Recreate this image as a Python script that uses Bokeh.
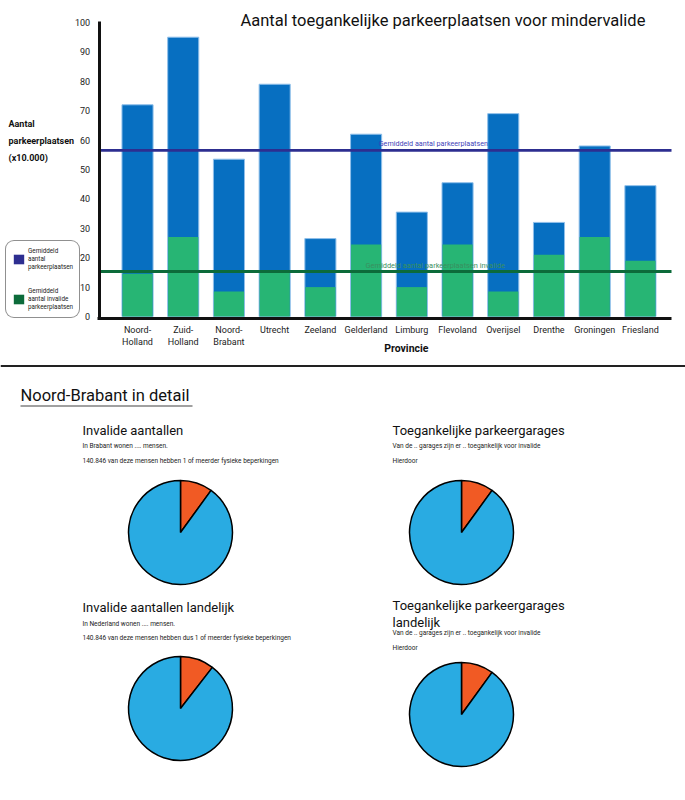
import numpy as np
from bokeh.plotting import figure
from bokeh.models import Range1d, Label, Legend, LegendItem, Span, FixedTicker
from bokeh.layouts import column
from bokeh.embed import file_html
from bokeh.resources import INLINE
from bokeh.core.properties import value

# ---------------- data ----------------
provinces = ["Noord-Holland", "Zuid-Holland", "Noord-Brabant", "Utrecht", "Zeeland",
             "Gelderland", "Limburg", "Flevoland", "Overijsel", "Drenthe",
             "Groningen", "Friesland"]
tick_labels = ["Noord-\nHolland", "Zuid-\nHolland", "Noord-\nBrabant", "Utrecht", "Zeeland",
               "Gelderland", "Limburg", "Flevoland", "Overijsel", "Drenthe",
               "Groningen", "Friesland"]
totaal = [72, 95, 53.5, 79, 26.5, 62, 35.5, 45.5, 69, 32, 58, 44.5]
invalide = [14.5, 27, 8.5, 15, 10, 24.5, 10, 24.5, 8.5, 21, 27, 19]
gem_totaal = 56.5
gem_invalide = 15.3
y_ticks = [0, 10, 20, 30, 40, 50, 60, 70, 80, 90, 100]

pie_titles = ["Invalide aantallen", "Toegankelijke parkeergarages",
              "Invalide aantallen landelijk", "Toegankelijke parkeergarages\nlandelijk"]
pie_line1 = ["In Brabant wonen .... mensen.",
             "Van de .. garages zijn er .. toegankelijk voor invalide",
             "In Nederland wonen .... mensen.",
             "Van de .. garages zijn er .. toegankelijk voor invalide"]
pie_line2 = ["140.846 van deze mensen hebben 1 of meerder fysieke beperkingen",
             "Hierdoor",
             "140.846 van deze mensen hebben dus 1 of meerder fysieke beperkingen",
             "Hierdoor"]
pie_values = [[10, 90], [10, 90], [10.5, 89.5], [10, 90]]
pie_colors = ["#f15a24", "#29abe2"]

# ---------------- styles ----------------
FONT = "Roboto"
BLUE = "#076fc1"
BLUE_EDGE = "#8fbfea"
GREEN = "#27b574"
NAVY = "#2d2e90"
DKGREEN = "#0c6b3a"

# plot area of the bar chart (data units)
X_LO, X_HI = -0.84, 11.68
Y_LO, Y_HI = -1.1, 100.4

# ---------------- bar chart ----------------
p = figure(width=685, height=360, x_range=Range1d(-2.997, 11.986), y_range=Range1d(-14.97, 107.48),
           output_backend="svg", toolbar_location=None, min_border=0)
p.outline_line_color = None
p.grid.visible = False
p.background_fill_color = "white"

xs = list(range(len(provinces)))
p.vbar(x=xs, top=totaal, bottom=0, width=0.68, fill_color=BLUE, line_color=BLUE_EDGE, line_width=1)
p.vbar(x=xs, top=invalide, bottom=0, width=0.66, fill_color=GREEN, line_color=None)

# average lines (thin horizontal bars, also used as legend glyphs)
r_avg1 = p.hbar(y=[gem_totaal], left=X_LO, right=X_HI, height=1.0, fill_color=NAVY, line_color=None)
r_avg2 = p.hbar(y=[gem_invalide], left=X_LO, right=X_HI, height=1.0, fill_color=DKGREEN, line_color=None)

for ax in (p.xaxis[0], p.yaxis[0]):
    ax.axis_line_width = 3
    ax.axis_line_color = "#111111"
    ax.major_tick_line_color = None
    ax.minor_tick_line_color = None
    ax.major_label_text_font = FONT
    ax.major_label_text_font_size = "9px"
    ax.major_label_text_color = "#222222"

p.yaxis.fixed_location = X_LO
p.yaxis.bounds = (Y_LO, Y_HI)
p.yaxis.ticker = FixedTicker(ticks=y_ticks)
p.yaxis.major_label_standoff = 3
p.xaxis.fixed_location = -0.6
p.xaxis.bounds = (X_LO - 0.03, X_HI)
p.xaxis.ticker = FixedTicker(ticks=xs)
p.xaxis.major_label_overrides = {i: lab for i, lab in enumerate(tick_labels)}
p.xaxis.major_label_standoff = 1

p.add_layout(Label(x=6.68, y=100.68, text="Aantal toegankelijke parkeerplaatsen voor mindervalide",
                   text_font=FONT, text_font_size="16.5px", text_align="center",
                   text_baseline="middle", text_color="#111111"))
p.add_layout(Label(x=6.47, y=gem_totaal, y_offset=7, text="Gemiddeld aantal parkeerplaatsen",
                   text_font=FONT, text_font_size="7.2px", text_align="center",
                   text_baseline="middle", text_color="#4343b8"))
p.add_layout(Label(x=6.51, y=gem_invalide, y_offset=6,
                   text="Gemiddeld aantal parkeerplaatsen invalide",
                   text_font=FONT, text_font_size="7.4px", text_align="center",
                   text_baseline="middle", text_color="#3a8f5f"))
p.add_layout(Label(x=-2.822, y=67.34, text="Aantal\nparkeerplaatsen\n(x10.000)",
                   text_font=FONT, text_font_size="9px", text_font_style="bold",
                   text_line_height=1.72,
                   text_align="left", text_baseline="top", text_color="#111111"))
p.add_layout(Label(x=5.88, y=-10.9, text="Provincie",
                   text_font=FONT, text_font_size="10.5px", text_font_style="bold",
                   text_align="center", text_baseline="middle", text_color="#111111"))

legend = Legend(items=[LegendItem(label="Gemiddeld\naantal\nparkeerplaatsen", renderers=[r_avg1]),
                       LegendItem(label="Gemiddeld\naantal invalide\nparkeerplaatsen", renderers=[r_avg2])],
                location=(5, 42), orientation="vertical",
                label_text_font=FONT, label_text_font_size="6.3px", label_text_color="#222222",
                label_text_line_height=1.5,
                glyph_width=13, glyph_height=12, label_standoff=3, label_height=12,
                padding=6, spacing=16, margin=0,
                border_line_color="#222222", border_line_width=1.5,
                background_fill_color="white", background_fill_alpha=1.0)
if "border_radius" in Legend.properties():
    legend.border_radius = 9
p.add_layout(legend, "center")

# ---------------- pies section ----------------
q = figure(width=685, height=440, x_range=Range1d(0, 685), y_range=Range1d(0, 440),
           output_backend="svg", toolbar_location=None, min_border=0)
q.axis.visible = False
q.grid.visible = False
q.outline_line_color = None

TOP = 800  # page height; data y = TOP - page pixel y


def Y(py):
    return TOP - py


q.add_layout(Span(location=Y(365.5), dimension="width", line_color="#222222", line_width=2))
q.text(x=[20], y=[Y(395)], text=["Noord-Brabant in detail"], text_font=value(FONT),
       text_font_size="16.5px", text_baseline="middle", text_align="left", text_color="#111111")
q.segment(x0=[20], y0=[Y(405.5)], x1=[192], y1=[Y(405.5)], line_color="#808080", line_width=1.5)

centers = [(180, 532), (461, 532), (180, 708), (461, 714)]
text_x = [82, 392, 82, 392]
title_y = [430, 430, 607, 613.5]
l1_y = [445, 445, 623, 632]
l2_y = [460, 460, 637, 647]

for (cx, cy), vals in zip(centers, pie_values):
    fr = np.array(vals, dtype=float) / float(sum(vals))
    cum = np.concatenate([[0.0], np.cumsum(fr)])
    start = np.pi / 2 - 2 * np.pi * cum[:-1]
    end = np.pi / 2 - 2 * np.pi * cum[1:]
    q.wedge(x=cx, y=Y(cy), radius=52, start_angle=list(start), end_angle=list(end),
            direction="clock", fill_color=pie_colors, line_color="black", line_width=1.5)

q.text(x=text_x, y=[Y(v) for v in title_y], text=pie_titles, text_font=value(FONT),
       text_font_size="13px", text_baseline="middle", text_align="left", text_color="#111111",
       text_line_height=1.15)
q.text(x=text_x, y=[Y(v) for v in l1_y], text=pie_line1, text_font=value(FONT),
       text_font_size="6.5px", text_baseline="middle", text_align="left", text_color="#222222")
q.text(x=text_x, y=[Y(v) for v in l2_y], text=pie_line2, text_font=value(FONT),
       text_font_size="6.5px", text_baseline="middle", text_align="left", text_color="#222222")

layout = column(p, q, spacing=0)
open("out.html", "w").write(file_html(layout, INLINE))
